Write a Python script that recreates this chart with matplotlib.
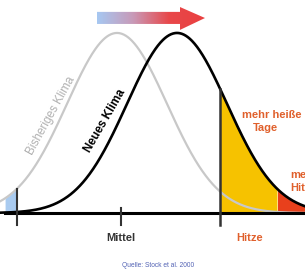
import matplotlib
matplotlib.use("Agg")
import matplotlib.pyplot as plt
import numpy as np
from matplotlib.patches import Polygon
from matplotlib.colors import LinearSegmentedColormap

plt.rcParams['font.family'] = ['Liberation Sans', 'DejaVu Sans']

# schematic parameters (in units of one standard deviation)
mu_old = 0.0
mu_new = 1.2
sigma = 1.0
cold_limit = -2.0
mean_tick = 0.08
heat_limit = 2.06
extreme_limit = 3.2

labels_axis = ["Mittel", "Hitze"]
old_label = "Bisheriges Klima"
new_label = "Neues Klima"
source = "Quelle: Stock et al. 2000"


def bell(x, mu):
    return np.exp(-0.5 * ((x - mu) / sigma) ** 2)


fig = plt.figure(figsize=(3.05, 2.73), dpi=100)
ax = fig.add_axes([0, 0, 1, 1])
ax.set_xlim(-2.34, 3.76)
ax.set_ylim(-0.333, 1.183)
ax.axis('off')

x = np.linspace(-2.34, 3.76, 600)

# fills
xc = x[x <= cold_limit]
xc = xc[xc >= -2.24]
ax.fill_between(xc, 0, bell(xc, mu_old), color='#a9cbf0', lw=0, zorder=1)
xh = x[(x >= heat_limit) & (x <= extreme_limit)]
ax.fill_between(xh, 0, bell(xh, mu_new), color='#f6c200', lw=0, zorder=1)
xe = x[x >= extreme_limit]
ax.fill_between(xe, 0, bell(xe, mu_new), color='#e8401c', lw=0, zorder=1)

# curves
ax.plot(x, bell(x, mu_old), color='#c8c8c8', lw=1.6, zorder=2)
ax.plot(x, bell(x, mu_new), color='black', lw=1.9, zorder=3)

# axis and ticks
ax.plot([-2.24, 3.76], [0, 0], color='black', lw=2.2, zorder=4)
ax.plot([cold_limit, cold_limit], [-0.067, bell(cold_limit, mu_old)], color='#333333', lw=1.5, zorder=4)
ax.plot([mean_tick, mean_tick], [-0.067, 0.03], color='#333333', lw=1.5, zorder=4)
ax.plot([heat_limit, heat_limit], [-0.067, bell(heat_limit, mu_new)], color='#333333', lw=1.8, zorder=4)

# gradient arrow
arrow = Polygon([(-0.4, 1.05), (1.26, 1.05), (1.26, 1.017), (1.76, 1.083),
                 (1.26, 1.144), (1.26, 1.117), (-0.4, 1.117)], closed=True,
                facecolor='none', edgecolor='none')
ax.add_patch(arrow)
cmap = LinearSegmentedColormap.from_list('warm', ['#a6c8f2', '#c89ab8', '#e8484a', '#ea4040'])
grad = np.linspace(0, 1, 256).reshape(1, -1)
im = ax.imshow(grad, cmap=cmap, extent=[-0.4, 1.76, 1.017, 1.144], aspect='auto', zorder=5)
im.set_clip_path(arrow)

# labels
ax.text(-1.32, 0.54, old_label, rotation=61, color='#b0b0b0', fontsize=8.5,
        ha='center', va='center', zorder=6)
ax.text(-0.24, 0.51, new_label, rotation=60, color='black', fontsize=8.5,
        fontweight='bold', ha='center', va='center', zorder=6)
ax.text(2.5, 0.544, "mehr heiße", color='#e0602c', fontsize=8, fontweight='bold',
        ha='left', va='center', zorder=6)
ax.text(2.72, 0.472, "Tage", color='#e0602c', fontsize=8, fontweight='bold',
        ha='left', va='center', zorder=6)
ax.text(3.46, 0.211, "mehr", color='#e0602c', fontsize=8, fontweight='bold',
        ha='left', va='center', zorder=6)
ax.text(3.46, 0.139, "Hitze", color='#e0602c', fontsize=8, fontweight='bold',
        ha='left', va='center', zorder=6)
ax.text(mean_tick, -0.139, labels_axis[0], color='#333333', fontsize=8, fontweight='bold',
        ha='center', va='center')
ax.text(2.66, -0.139, labels_axis[1], color='#e0602c', fontsize=8, fontweight='bold',
        ha='center', va='center')
ax.text(0.82, -0.294, source, color='#5262b4', fontsize=4.8, ha='center', va='center')

fig.savefig("out.png", dpi=100)
